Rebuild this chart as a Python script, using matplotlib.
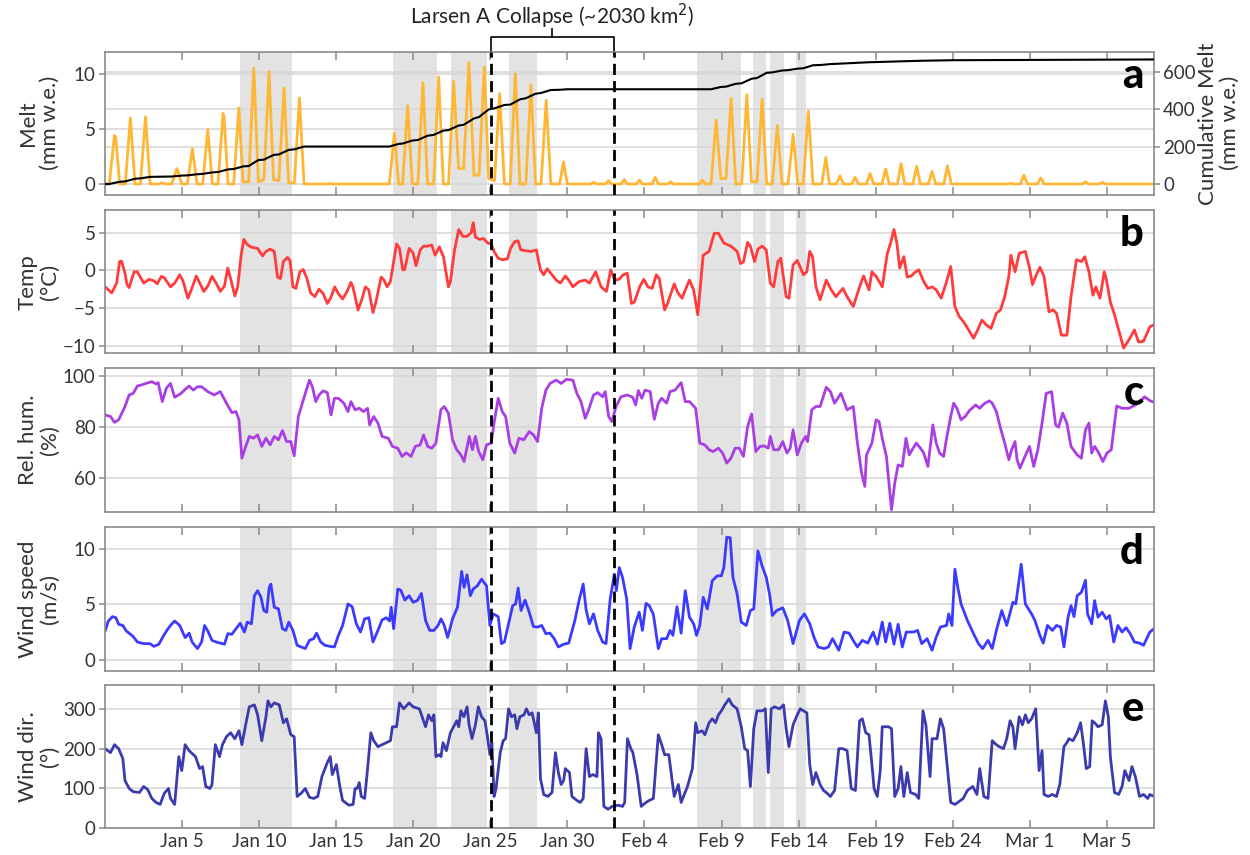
import numpy as np
import matplotlib
matplotlib.use("Agg")
import matplotlib.pyplot as plt
import matplotlib.transforms as mtransforms

plt.rcParams['font.family'] = ['Lato', 'DejaVu Sans']

# x axis: day number (Jan 5 = 5, Feb 4 = 35, Mar 5 = 65)
XLIM = (0.0, 68.04)
tick_days = [5, 10, 15, 20, 25, 30, 35, 40, 45, 50, 55, 60, 65]
tick_labels = ['Jan 5', 'Jan 10', 'Jan 15', 'Jan 20', 'Jan 25', 'Jan 30', 'Feb 4',
               'Feb 9', 'Feb 14', 'Feb 19', 'Feb 24', 'Mar 1', 'Mar 5']

# periods shaded grey
shade_start = [8.79, 18.69, 22.45, 26.19, 38.43, 42.06, 43.16, 44.80]
shade_end = [12.15, 21.54, 24.77, 28.02, 41.25, 42.89, 44.02, 45.50]

collapse_start = 25.05
collapse_end = 33.02

# melt (mm w.e.)
melt_day = [0.03, 0.30, 0.64, 0.72, 0.98, 1.34, 1.67, 1.97, 2.32, 2.65, 2.95, 3.50, 3.73, 3.95,
            4.35, 4.68, 4.75, 5.00, 5.36, 5.69, 5.99, 6.36, 6.69, 6.99, 7.35, 7.68, 7.75, 8.00,
            8.37, 8.70, 8.98, 9.34, 9.67, 9.97, 10.33, 10.66, 10.95, 11.30, 11.63, 11.93, 12.30,
            12.63, 12.93, 14.40, 14.60, 14.80, 18.46, 18.79, 19.06, 19.32, 19.65, 19.95, 20.31,
            20.64, 20.94, 21.33, 21.66, 21.96, 22.30, 22.63, 22.95, 23.28, 23.62, 23.95, 24.28,
            24.62, 24.90, 25.28, 25.61, 25.92, 26.30, 26.63, 26.93, 27.31, 27.64, 27.94, 28.30,
            28.63, 28.93, 29.50, 29.75, 30.00, 31.50, 31.70, 31.90, 32.47, 32.67, 32.87, 33.49,
            33.69, 33.89, 34.48, 34.68, 34.88, 35.50, 35.70, 35.90, 36.50, 36.70, 36.90, 38.56,
            38.76, 38.96, 39.32, 39.65, 39.95, 40.29, 40.62, 40.92, 41.31, 41.64, 41.94, 42.30,
            42.63, 42.93, 43.29, 43.62, 43.92, 44.31, 44.64, 44.94, 45.30, 45.63, 45.93, 46.50,
            46.76, 47.00, 47.45, 47.68, 47.90, 48.43, 48.66, 48.88, 49.40, 49.63, 49.86, 50.40,
            50.64, 50.88, 51.40, 51.64, 51.88, 52.41, 52.65, 52.89, 53.41, 53.65, 53.89, 54.41,
            54.65, 54.90, 58.56, 58.76, 58.96, 59.38, 59.60, 59.84, 60.48, 60.70, 60.92, 63.40,
            63.60, 63.80, 64.50, 64.70, 64.90, 68.04]
melt_mm = [0.0, 0.0, 4.4, 4.2, 0.0, 0.0, 6.0, 0.0, 0.0, 6.1, 0.0, 0.0, 0.1, 0.0,
           0.0, 1.4, 1.2, 0.0, 0.0, 3.2, 0.0, 0.0, 4.95, 0.0, 0.0, 6.4, 6.0, 0.0,
           0.0, 6.9, 0.2, 0.2, 10.5, 0.2, 0.4, 10.2, 0.4, 0.3, 8.7, 0.1, 0.1,
           7.8, 0.0, 0.0, 0.05, 0.0, 0.0, 4.6, 0.0, 0.0, 7.1, 0.0, 0.0,
           9.2, 0.0, 0.0, 9.7, 0.0, 0.0, 9.3, 1.4, 1.4, 11.0, 0.8, 0.8,
           10.6, 0.5, 0.3, 8.2, 0.0, 0.0, 10.0, 0.0, 0.0, 9.0, 0.0, 0.0,
           7.6, 0.0, 0.0, 2.0, 0.0, 0.0, 0.15, 0.0, 0.0, 0.3, 0.0, 0.0,
           0.4, 0.0, 0.0, 0.35, 0.0, 0.0, 0.6, 0.0, 0.0, 0.2, 0.0, 0.0,
           0.35, 0.0, 0.0, 5.8, 0.5, 0.5, 7.75, 0.0, 0.0, 8.1, 0.2, 0.2,
           7.7, 0.0, 0.0, 5.3, 0.0, 0.0, 4.5, 0.0, 0.0, 6.6, 0.0, 0.0,
           2.4, 0.0, 0.0, 0.75, 0.0, 0.0, 0.6, 0.0, 0.0, 0.95, 0.0, 0.0,
           1.35, 0.0, 0.0, 1.85, 0.0, 0.0, 1.6, 0.0, 0.0, 1.15, 0.0, 0.0,
           1.65, 0.0, 0.0, 0.05, 0.0, 0.0, 0.8, 0.0, 0.0, 0.55, 0.0, 0.0,
           0.2, 0.0, 0.0, 0.15, 0.0, 0.0]

# cumulative melt (mm w.e.)
cum_day = [0.03, 0.30, 0.98, 1.34, 1.97, 2.32, 2.95, 4.35, 5.00, 5.36, 5.99, 6.36, 6.99,
           7.35, 8.00, 8.37, 8.98, 9.34, 9.97, 10.33, 10.95, 11.30, 11.93, 12.30, 12.93,
           18.46, 19.06, 19.32, 19.95, 20.31, 20.94, 21.33, 21.96, 22.30, 22.95, 23.28, 23.95,
           24.28, 24.90, 25.28, 25.92, 26.30, 26.93, 27.31, 27.94, 28.30, 28.93, 29.50, 30.00,
           39.32, 39.95, 40.29, 40.92, 41.31, 41.94, 42.30, 42.93, 43.29, 43.92, 44.31, 44.94,
           45.30, 45.93, 46.50, 47.00, 49.50, 52.90, 55.00, 68.04]
cum_mm = [0, 0, 12, 14, 28, 30, 38, 40, 45, 46, 52, 54, 62,
          64, 78, 80, 94, 96, 128, 130, 155, 158, 182, 185, 200,
          200, 214, 216, 232, 235, 258, 262, 285, 288, 312, 316, 350,
          358, 398, 404, 422, 424, 452, 458, 482, 486, 502, 503, 506,
          506, 518, 520, 535, 538, 562, 566, 594, 596, 606, 608, 616,
          618, 634, 636, 640, 650, 658, 661, 665]

# air temperature (deg C)
temp_day = [0.03, 0.24, 0.46, 0.78, 0.97, 1.10, 1.32, 1.45, 1.59, 1.91, 2.12, 2.53, 2.88, 3.20,
            3.41, 3.68, 3.87, 4.27, 4.54, 4.87, 5.08, 5.40, 5.62, 5.94, 6.10, 6.43, 6.69, 6.96,
            7.23, 7.50, 7.77, 7.98, 8.17, 8.44, 8.63, 8.85, 9.03, 9.25, 9.52, 9.92, 10.24, 10.46,
            10.73, 11.00, 11.21, 11.40, 11.59, 11.86, 12.02, 12.21, 12.40, 12.66, 12.88, 13.10,
            13.36, 13.63, 13.90, 14.17, 14.44, 14.65, 14.92, 15.16, 15.43, 15.70, 15.97, 16.10,
            16.43, 16.64, 16.91, 17.13, 17.40, 17.58, 17.93, 18.12, 18.31, 18.53, 18.74, 18.93,
            19.12, 19.33, 19.46, 19.74, 20.00, 20.19, 20.46, 20.68, 20.95, 21.21, 21.43, 21.70,
            21.97, 22.29, 22.42, 22.69, 22.96, 23.23, 23.50, 23.77, 23.90, 24.04, 24.30, 24.57,
            24.85, 25.06, 25.25, 25.52, 25.78, 26.11, 26.32, 26.59, 26.80, 26.99, 27.26, 27.67,
            27.99, 28.26, 28.47, 28.69, 29.01, 29.28, 29.55, 29.87, 30.09, 30.36, 30.76, 31.16,
            31.43, 31.84, 32.19, 32.54, 32.81, 33.08, 33.35, 33.62, 33.89, 34.16, 34.35, 34.69,
            34.96, 35.23, 35.50, 35.77, 35.96, 36.31, 36.50, 36.93, 37.17, 37.44, 37.65, 37.92,
            38.19, 38.46, 38.81, 39.19, 39.53, 39.80, 40.15, 40.61, 41.01, 41.23, 41.42, 41.69,
            41.87, 42.14, 42.36, 42.63, 42.90, 43.16, 43.38, 43.65, 43.84, 44.19, 44.37, 44.64,
            44.91, 45.31, 45.53, 45.72, 45.90, 46.12, 46.39, 46.79, 47.06, 47.41, 47.87, 48.14,
            48.54, 48.95, 49.21, 49.56, 49.75, 50.02, 50.42, 50.75, 50.96, 51.18, 51.37, 51.55,
            51.82, 52.04, 52.31, 52.52, 52.79, 53.11, 53.38, 53.65, 53.92, 54.24, 54.59, 54.86,
            55.13, 55.40, 55.75, 56.07, 56.34, 56.61, 56.88, 57.15, 57.47, 57.82, 58.09, 58.36,
            58.63, 58.76, 59.03, 59.30, 59.70, 59.97, 60.16, 60.37, 60.64, 60.91, 61.23, 61.50,
            61.72, 62.04, 62.39, 62.66, 63.01, 63.33, 63.55, 63.82, 64.08, 64.27, 64.54, 64.81,
            64.94, 65.21, 65.48, 65.75, 66.07, 66.42, 66.77, 67.04, 67.36, 67.77, 68.04]
temp_c = [-2.2, -2.6, -3.0, -1.7, 1.15, 1.2, -0.4, -1.9, -2.3, -0.2, -0.2, -1.7, -1.2, -1.4,
          -1.8, -0.8, -1.0, -2.2, -1.7, -0.6, -1.4, -3.7, -2.6, -0.75, -1.4, -2.8, -2.1, -0.8,
          -1.7, -2.8, -2.1, 0.3, -1.1, -3.4, -2.2, 2.0, 4.1, 3.4, 3.05, 2.9, 1.9, 2.5,
          2.8, 2.5, -0.9, -1.1, 1.15, 1.7, 1.3, -2.2, -2.4, -0.2, 0.1, -1.0,
          -3.0, -3.5, -2.5, -3.1, -4.4, -3.7, -2.2, -3.1, -3.8, -2.9, -1.6, -2.2,
          -5.25, -4.1, -2.2, -2.6, -5.6, -4.3, -0.9, -1.3, -2.2, -1.5, 1.15, 3.5,
          2.9, 0.05, 0.1, 2.9, 2.3, 0.6, 2.7, 3.2, 3.2, 3.35, 2.0, 3.1,
          1.8, -2.2, -1.5, 2.7, 5.4, 4.5, 4.5, 5.0, 6.3, 4.4, 4.1, 4.2,
          3.6, 3.5, 2.5, 1.6, 1.4, 1.5, 2.9, 3.8, 3.9, 2.7, 2.6, 2.5,
          2.7, 0.05, -0.6, 0.2, -0.6, -1.3, -1.7, -0.75, -1.3, -2.2, -1.5, -1.3,
          -1.7, -0.2, -2.2, -2.8, 0.05, -1.3, -1.2, -0.6, -0.4, -4.4, -4.2, -2.2,
          -1.2, -2.2, -2.4, -0.6, -1.1, -5.25, -4.4, -1.8, -3.0, -3.7, -2.6, -1.3,
          -2.6, -5.9, 2.0, 2.5, 4.9, 4.9, 3.6, 3.2, 2.5, 0.9, 1.1, 3.7,
          3.2, 1.15, 2.8, 3.2, 2.7, -1.7, -2.2, 1.15, 1.6, -3.5, -3.7, 0.7,
          1.3, -0.6, -0.2, 2.5, 1.8, -2.2, -3.9, -1.3, -2.4, -3.5, -2.4, -3.5,
          -4.8, -2.2, -0.75, -2.6, -0.2, -0.8, -2.2, 2.25, 3.6, 5.4, 3.6, 0.3,
          1.8, -0.9, -0.75, -0.3, 0.05, -1.5, -2.4, -2.2, -2.6, -3.7, -1.5, 0.5,
          -4.8, -6.1, -7.0, -8.1, -9.0, -7.9, -6.6, -7.2, -7.7, -5.7, -5.25, -3.5,
          -0.8, 2.0, -0.2, 2.25, 2.5, 0.3, -1.9, -0.8, 0.4, -0.8, -5.5, -5.25,
          -5.7, -8.6, -8.6, -3.5, 1.4, 1.15, 1.8, -0.2, -3.3, -2.2, -3.7, -0.2,
          -1.1, -4.2, -5.9, -7.9, -10.3, -9.2, -7.9, -9.5, -9.4, -7.5, -7.2]

# relative humidity (%)
rh_day = [0.03, 0.38, 0.64, 0.91, 1.32, 1.59, 1.85, 2.12, 2.39, 2.66, 3.06, 3.33, 3.47, 3.74,
          4.00, 4.27, 4.54, 4.95, 5.22, 5.48, 5.75, 6.02, 6.29, 6.69, 7.10, 7.50, 7.90, 8.25,
          8.52, 8.71, 8.90, 9.11, 9.38, 9.65, 9.92, 10.19, 10.46, 10.73, 11.00, 11.27, 11.53,
          11.80, 12.07, 12.29, 12.56, 12.82, 13.01, 13.28, 13.47, 13.69, 13.90, 14.17, 14.44,
          14.68, 14.90, 15.16, 15.51, 15.78, 15.97, 16.24, 16.51, 16.78, 17.05, 17.18, 17.45,
          17.72, 17.99, 18.39, 18.66, 19.01, 19.28, 19.55, 19.87, 20.14, 20.46, 20.68, 20.95,
          21.21, 21.48, 21.80, 22.02, 22.29, 22.56, 22.83, 23.10, 23.31, 23.64, 23.85, 24.04,
          24.25, 24.52, 24.76, 25.06, 25.25, 25.52, 25.78, 26.00, 26.27, 26.59, 26.86, 27.18,
          27.53, 27.80, 28.07, 28.34, 28.61, 28.88, 29.28, 29.60, 29.95, 30.36, 30.62, 30.89,
          31.16, 31.38, 31.70, 31.97, 32.29, 32.46, 32.68, 32.89, 33.16, 33.48, 33.89, 34.24,
          34.43, 34.61, 34.83, 35.04, 35.37, 35.64, 35.90, 36.12, 36.44, 36.66, 36.98, 37.38,
          37.65, 37.92, 38.32, 38.59, 38.92, 39.19, 39.45, 39.80, 40.07, 40.34, 40.61, 40.88,
          41.15, 41.42, 41.69, 41.95, 42.22, 42.49, 42.76, 43.03, 43.16, 43.38, 43.70, 43.97,
          44.24, 44.45, 44.64, 44.91, 45.18, 45.45, 45.58, 45.85, 46.12, 46.39, 46.79, 47.06,
          47.33, 47.74, 48.14, 48.54, 48.81, 49.08, 49.29, 49.40, 49.75, 50.02, 50.21, 50.42,
          50.69, 51.02, 51.23, 51.45, 51.72, 51.96, 52.17, 52.36, 52.63, 52.90, 53.11, 53.38,
          53.70, 53.92, 54.14, 54.40, 54.59, 54.86, 55.05, 55.26, 55.53, 55.80, 56.07, 56.47,
          56.74, 57.01, 57.36, 57.55, 57.82, 58.09, 58.36, 58.63, 58.81, 59.03, 59.16, 59.35,
          59.62, 59.97, 60.24, 60.51, 60.78, 61.05, 61.40, 61.66, 61.85, 62.12, 62.39, 62.66,
          63.06, 63.33, 63.60, 63.82, 64.00, 64.19, 64.41, 64.73, 64.99, 65.27, 65.62, 65.97,
          66.42, 66.83, 67.15, 67.42, 67.77, 68.04]
rh_pct = [84.8, 84.2, 81.9, 82.9, 88.1, 92.6, 93.2, 96.1, 96.5, 97.1, 97.8, 96.9, 97.4, 90.0,
          95.2, 97.1, 91.7, 93.2, 94.8, 96.1, 94.5, 95.8, 95.8, 93.9, 92.6, 93.9, 89.4, 85.7,
          86.1, 82.9, 67.9, 71.8, 76.4, 75.7, 77.0, 72.5, 75.7, 73.1, 76.4, 75.1, 78.7,
          74.4, 74.4, 68.8, 84.2, 89.4, 93.2, 98.4, 95.8, 90.0, 92.6, 94.2, 93.5,
          84.8, 91.3, 91.3, 89.4, 86.1, 90.0, 86.8, 87.4, 86.1, 87.4, 80.9, 84.2,
          81.6, 76.4, 75.7, 72.5, 71.8, 68.6, 70.0, 68.6, 72.5, 73.1, 77.0, 72.5,
          71.8, 73.8, 86.8, 88.1, 85.5, 75.1, 71.2, 69.2, 66.6, 76.4, 71.2, 76.4,
          70.5, 67.3, 73.1, 73.8, 81.6, 91.3, 86.1, 84.2, 73.8, 69.9, 75.7, 75.1,
          78.3, 77.0, 74.4, 87.4, 94.5, 97.1, 98.4, 97.1, 98.7, 98.4, 93.2, 90.0,
          83.5, 86.8, 92.6, 93.5, 91.9, 93.9, 84.2, 82.2, 88.1, 91.9, 92.6, 91.7,
          88.7, 94.3, 91.3, 94.5, 93.9, 83.1, 89.4, 91.3, 89.4, 93.9, 94.5, 97.4,
          90.0, 90.0, 87.4, 73.8, 73.1, 71.2, 70.5, 71.8, 69.9, 66.0, 67.9, 71.8,
          71.8, 68.6, 80.3, 85.2, 70.5, 72.5, 72.7, 71.8, 76.4, 71.2, 71.2, 74.4,
          69.9, 71.8, 79.0, 69.2, 73.8, 76.4, 74.4, 86.8, 88.1, 88.1, 95.6, 93.9,
          89.4, 93.2, 86.8, 88.1, 73.8, 62.1, 56.9, 69.2, 73.8, 82.9, 82.2, 75.7,
          68.6, 47.8, 58.2, 65.3, 64.7, 75.7, 69.2, 71.2, 73.8, 71.8, 69.9, 64.7,
          80.9, 73.8, 69.9, 68.6, 75.7, 84.2, 89.4, 87.4, 82.9, 84.2, 86.5, 88.7,
          87.4, 89.1, 90.3, 89.4, 86.1, 79.6, 73.8, 67.3, 71.2, 74.4, 67.3, 64.0,
          67.9, 72.5, 64.7, 71.2, 81.6, 93.2, 93.9, 80.9, 80.0, 85.5, 81.6, 72.5,
          69.2, 67.9, 79.0, 81.6, 69.9, 72.5, 70.5, 66.6, 69.9, 71.2, 88.3, 87.4,
          87.4, 88.7, 90.0, 91.9, 90.4, 89.7]

# wind speed (m/s)
ws_day = [0.03, 0.24, 0.51, 0.73, 0.91, 1.18, 1.40, 1.59, 1.85, 2.12, 2.53, 2.93, 3.20, 3.52,
          3.79, 4.06, 4.27, 4.54, 4.87, 5.22, 5.48, 5.67, 6.02, 6.29, 6.48, 6.69, 6.96, 7.23,
          7.50, 7.77, 7.99, 8.25, 8.52, 8.79, 9.06, 9.25, 9.52, 9.71, 9.92, 10.14, 10.32, 10.51,
          10.67, 10.78, 11.00, 11.27, 11.53, 11.75, 11.94, 12.21, 12.48, 12.74, 13.01, 13.28,
          13.55, 13.74, 14.01, 14.28, 14.63, 14.90, 15.16, 15.43, 15.78, 16.05, 16.32, 16.59,
          16.86, 17.13, 17.40, 17.72, 17.99, 18.26, 18.47, 18.58, 18.74, 19.01, 19.20, 19.47,
          19.74, 20.00, 20.27, 20.54, 20.81, 21.08, 21.35, 21.62, 21.81, 22.02, 22.24, 22.56,
          22.88, 23.15, 23.31, 23.50, 23.71, 23.90, 24.17, 24.44, 24.76, 24.98, 25.19, 25.52,
          25.73, 25.92, 26.19, 26.46, 26.65, 26.81, 27.00, 27.26, 27.53, 27.80, 28.07, 28.34,
          28.61, 28.88, 29.15, 29.42, 29.77, 30.09, 30.49, 30.76, 31.03, 31.22, 31.43, 31.70,
          31.97, 32.29, 32.51, 32.78, 33.05, 33.18, 33.37, 33.58, 33.85, 34.07, 34.34, 34.66,
          34.87, 35.10, 35.31, 35.58, 35.90, 36.12, 36.44, 36.66, 36.85, 37.11, 37.38, 37.65,
          37.92, 38.19, 38.38, 38.59, 38.81, 39.08, 39.40, 39.72, 39.99, 40.15, 40.34, 40.56,
          40.74, 41.01, 41.28, 41.60, 41.87, 42.09, 42.36, 42.63, 42.90, 43.11, 43.30, 43.57,
          43.97, 44.29, 44.64, 45.05, 45.37, 45.72, 45.99, 46.26, 46.66, 46.93, 47.20, 47.60,
          47.95, 48.27, 48.60, 48.81, 49.13, 49.48, 49.83, 50.10, 50.42, 50.64, 50.91, 51.18,
          51.45, 51.72, 51.98, 52.44, 52.71, 52.98, 53.33, 53.65, 53.92, 54.19, 54.59, 54.73,
          54.94, 55.13, 55.32, 55.53, 55.94, 56.34, 56.66, 56.93, 57.28, 57.55, 57.82, 58.17,
          58.49, 58.89, 59.08, 59.43, 59.70, 60.10, 60.32, 60.64, 60.86, 61.13, 61.45, 61.72,
          61.99, 62.20, 62.47, 62.66, 62.85, 63.06, 63.33, 63.60, 63.73, 64.00, 64.19, 64.41,
          64.68, 64.94, 65.16, 65.43, 65.70, 65.97, 66.23, 66.50, 66.77, 67.10, 67.36, 67.77,
          68.04]
ws_ms = [2.6, 3.5, 3.9, 3.8, 3.2, 3.1, 2.6, 2.4, 2.1, 1.6, 1.45, 1.45, 1.2, 1.4,
         2.1, 2.7, 3.1, 3.5, 3.1, 2.0, 2.4, 1.6, 1.0, 1.6, 3.1, 2.6, 1.75, 1.6,
         1.5, 1.4, 2.35, 2.3, 2.8, 3.3, 2.5, 3.4, 3.25, 5.8, 6.25, 5.65, 4.45, 4.3,
         6.55, 6.85, 4.75, 4.6, 2.8, 2.65, 3.4, 2.65, 1.3, 1.15, 1.0, 1.75,
         1.9, 2.4, 1.6, 1.3, 1.2, 1.15, 2.2, 3.1, 5.05, 4.8, 3.25, 2.5,
         3.7, 3.8, 1.6, 2.65, 3.6, 3.8, 3.5, 4.75, 2.8, 6.4, 6.3, 5.4,
         5.8, 5.2, 5.35, 6.0, 3.55, 2.65, 2.65, 3.1, 3.7, 3.1, 2.0, 3.7,
         4.75, 8.0, 6.55, 7.7, 5.8, 6.4, 6.7, 7.3, 6.7, 3.1, 4.15, 3.9,
         1.45, 1.6, 3.25, 4.9, 5.05, 6.5, 4.45, 5.4, 4.3, 3.0, 2.95, 3.1,
         2.35, 2.4, 1.9, 1.15, 1.4, 1.5, 3.55, 5.35, 6.85, 4.5, 3.25, 4.15,
         2.65, 1.6, 1.45, 5.5, 7.75, 6.25, 8.35, 7.45, 5.5, 1.0, 2.95, 4.3,
         2.65, 5.1, 4.9, 4.1, 1.0, 1.9, 1.9, 2.65, 2.2, 4.8, 2.4, 6.25,
         3.85, 3.25, 2.2, 3.1, 5.65, 4.6, 7.15, 7.6, 7.6, 8.35, 11.1, 11.05,
         7.45, 5.95, 3.4, 3.1, 4.45, 4.6, 9.85, 8.5, 7.45, 5.95, 4.0, 4.45,
         4.7, 3.55, 1.45, 3.55, 4.15, 3.25, 2.05, 1.15, 1.0, 1.15, 1.9, 0.85,
         2.5, 2.4, 1.6, 1.15, 1.75, 1.5, 2.5, 1.4, 3.4, 1.6, 3.3, 1.4,
         3.2, 1.15, 2.5, 2.5, 2.65, 1.45, 1.9, 0.85, 2.05, 2.95, 3.1, 4.15,
         3.1, 8.2, 6.55, 5.05, 3.55, 2.35, 1.45, 1.0, 1.75, 1.0, 2.65, 4.45,
         3.1, 5.2, 5.05, 8.65, 5.05, 4.15, 3.55, 2.2, 1.5, 3.1, 2.65, 3.1,
         2.95, 1.15, 3.85, 4.9, 3.9, 5.8, 6.1, 7.2, 4.15, 3.25, 5.35, 3.85,
         4.3, 3.7, 4.0, 1.6, 3.1, 2.5, 2.9, 2.35, 1.6, 1.5, 1.3, 2.5,
         2.8]

# wind direction (deg)
wd_day = [0.03, 0.38, 0.64, 0.91, 1.18, 1.32, 1.59, 1.85, 2.26, 2.53,
          2.80, 3.06, 3.33, 3.60, 3.87, 4.14, 4.27, 4.54, 4.81, 5.00,
          5.22, 5.48, 5.89, 6.16, 6.35, 6.56, 6.83, 6.96, 7.18, 7.45,
          7.64, 7.90, 8.17, 8.44, 8.71, 8.90, 9.17, 9.38, 9.71, 9.92,
          10.19, 10.46, 10.59, 10.78, 11.00, 11.32, 11.59, 11.80, 12.07, 12.29,
          12.48, 12.74, 13.01, 13.28, 13.55, 13.82, 14.09, 14.44, 14.63, 14.76,
          15.03, 15.25, 15.43, 15.84, 16.11, 16.24, 16.37, 16.51, 16.64, 16.86,
          17.05, 17.26, 17.45, 17.72, 18.26, 18.53, 18.66, 18.93, 19.12, 19.39,
          19.74, 20.00, 20.41, 20.68, 20.81, 21.00, 21.21, 21.35, 21.48, 21.70,
          21.81, 21.94, 22.16, 22.42, 22.69, 22.83, 22.96, 23.10, 23.29, 23.50,
          23.63, 23.82, 24.04, 24.23, 24.44, 24.66, 24.84, 24.98, 25.11, 25.25,
          25.38, 25.65, 25.84, 26.00, 26.19, 26.38, 26.59, 26.73, 26.92, 27.19,
          27.35, 27.53, 27.72, 27.88, 27.99, 28.12, 28.26, 28.47, 28.74, 29.01,
          29.23, 29.42, 29.60, 29.76, 29.87, 30.14, 30.30, 30.62, 30.84, 31.03,
          31.22, 31.43, 31.65, 31.92, 32.02, 32.19, 32.37, 32.64, 32.91, 33.31,
          33.58, 33.72, 33.90, 34.12, 34.25, 34.52, 34.79, 35.10, 35.31, 35.58,
          35.90, 36.12, 36.31, 36.58, 36.93, 37.20, 37.38, 37.79, 38.11, 38.32,
          38.46, 38.73, 38.92, 39.19, 39.40, 39.61, 39.80, 39.99, 40.21, 40.48,
          40.69, 41.01, 41.28, 41.50, 41.69, 41.87, 42.09, 42.30, 42.63, 42.84,
          43.03, 43.22, 43.43, 43.76, 44.02, 44.19, 44.37, 44.64, 44.91, 45.10,
          45.31, 45.53, 45.72, 45.91, 46.12, 46.39, 46.61, 46.79, 47.06, 47.33,
          47.60, 47.87, 48.14, 48.41, 48.68, 48.95, 49.13, 49.35, 49.56, 49.75,
          49.89, 50.10, 50.29, 50.42, 50.64, 50.83, 51.02, 51.23, 51.45, 51.63,
          51.82, 52.04, 52.25, 52.58, 52.79, 53.06, 53.25, 53.52, 53.65, 53.97,
          54.19, 54.40, 54.67, 54.86, 55.13, 55.32, 55.67, 55.94, 56.29, 56.56,
          56.74, 57.01, 57.28, 57.55, 57.82, 58.01, 58.28, 58.49, 58.71, 58.89,
          59.03, 59.30, 59.51, 59.70, 59.89, 60.10, 60.37, 60.59, 60.78, 60.91,
          61.18, 61.45, 61.72, 61.93, 62.20, 62.39, 62.52, 62.79, 63.06, 63.28,
          63.47, 63.65, 63.87, 64.03, 64.19, 64.41, 64.68, 64.89, 65.08, 65.21,
          65.48, 65.75, 65.97, 66.15, 66.42, 66.61, 66.83, 67.10, 67.36, 67.63,
          67.77, 68.04]
wd_deg = [200, 190, 210, 200, 175, 120, 100, 92, 90, 105,
          97, 75, 65, 60, 88, 100, 75, 60, 180, 145,
          210, 195, 180, 150, 155, 105, 100, 110, 210, 180,
          210, 230, 240, 225, 245, 210, 265, 305, 310, 285,
          220, 280, 320, 305, 315, 310, 265, 275, 235, 230,
          80, 88, 100, 78, 75, 80, 130, 165, 180, 135,
          160, 105, 70, 58, 60, 100, 100, 115, 80, 75,
          150, 240, 220, 205, 215, 220, 255, 255, 315, 300,
          315, 305, 300, 270, 255, 285, 270, 285, 180, 185,
          180, 215, 195, 240, 260, 270, 255, 295, 280, 305,
          260, 225, 260, 305, 280, 270, 225, 185, 215, 80,
          100, 190, 220, 225, 300, 280, 285, 250, 280, 285,
          300, 285, 290, 260, 240, 290, 125, 85, 80, 90,
          190, 140, 110, 120, 150, 140, 80, 70, 65, 75,
          200, 130, 135, 130, 240, 225, 55, 48, 55, 58,
          55, 65, 225, 200, 190, 135, 55, 65, 70, 75,
          235, 210, 185, 185, 80, 110, 65, 105, 150, 265,
          240, 245, 235, 265, 275, 265, 285, 295, 310, 325,
          310, 300, 255, 200, 195, 105, 250, 295, 295, 300,
          140, 300, 305, 300, 310, 250, 205, 260, 285, 300,
          295, 290, 160, 110, 140, 110, 95, 90, 80, 95,
          200, 200, 195, 100, 95, 270, 275, 240, 235, 160,
          100, 80, 145, 255, 255, 255, 250, 80, 100, 155,
          80, 140, 90, 85, 75, 295, 260, 130, 225, 225,
          275, 250, 140, 65, 60, 65, 75, 95, 105, 85,
          150, 80, 75, 220, 210, 205, 200, 225, 270, 255,
          200, 280, 260, 285, 265, 275, 300, 145, 195, 85,
          80, 85, 80, 110, 205, 215, 225, 220, 240, 265,
          210, 150, 155, 270, 265, 255, 260, 320, 280, 180,
          90, 85, 105, 145, 120, 155, 130, 80, 85, 75,
          85, 80]

LINE_COLORS = {'melt': '#ffb733', 'temp': '#ff3b3b', 'rh': '#a93ee3',
               'ws': '#3b3bff', 'wd': '#3b3bad'}
SHADE = '#e3e3e3'
GRID = '#d6d6d6'
SPINE = '#8a8a8a'
TEXT = '#333333'
TICK_FS = 13.5
LABEL_FS = 16


def _style_axes(ax, ylim, yticks, ylabel):
    ax.set_xlim(*XLIM)
    ax.set_ylim(*ylim)
    ax.set_yticks(yticks)
    for s in ax.spines.values():
        s.set_color(SPINE)
        s.set_linewidth(1.2)
    ax.set_xticks(tick_days)
    ax.tick_params(axis='x', direction='in', top=True, bottom=True, length=6,
                   color=SPINE, width=1.1, labelsize=TICK_FS, labelcolor=TEXT)
    ax.tick_params(axis='y', direction='out', length=4, color=SPINE, width=1.1,
                   labelsize=TICK_FS, labelcolor=TEXT, pad=2.5)
    for y in yticks:
        ax.axhline(y, color=GRID, lw=1.1, zorder=0.5)
    for a, b in zip(shade_start, shade_end):
        ax.axvspan(a, b, color=SHADE, lw=0, zorder=0)
    for x in (collapse_start, collapse_end):
        ax.axvline(x, color='black', lw=2.0, ls=(0, (4, 2.2)), zorder=4)
    ax.set_ylabel(ylabel, fontsize=LABEL_FS, color=TEXT, linespacing=1.1)
    ax.yaxis.set_label_coords(-0.043, 0.5)


def _panel_letter(ax, letter):
    ax.text(0.99, 0.83, letter, transform=ax.transAxes, ha='right', va='center',
            fontsize=30, fontweight='black', color='black', zorder=6)


fig = plt.figure(figsize=(12.5, 8.55), dpi=100)
left, width, height = 0.0837, 0.8395, 0.1677
bottoms = [0.7719, 0.5868, 0.4015, 0.2156, 0.0312]
axes = [fig.add_axes([left, b, width, height]) for b in bottoms]
ax_a, ax_b, ax_c, ax_d, ax_e = axes

### a: melt + cumulative melt
CUM_SCALE = 58.9
_style_axes(ax_a, (-1, 12), [0, 5, 10], 'Melt\n(mm w.e.)')
for y in (200, 400, 600):
    ax_a.axhline(y / CUM_SCALE, color=GRID, lw=1.1, zorder=0.5)
ax_a.plot(melt_day, melt_mm, color=LINE_COLORS['melt'], lw=2.0, zorder=2)
ax_cum = ax_a.twinx()
ax_cum.set_ylim(-1 * CUM_SCALE, 12 * CUM_SCALE)
ax_cum.set_yticks([0, 200, 400, 600])
ax_cum.plot(cum_day, cum_mm, color='black', lw=1.5, zorder=3)
ax_cum.tick_params(axis='y', direction='out', length=4, color=SPINE, width=1.1,
                   labelsize=TICK_FS, labelcolor=TEXT, pad=2.5)
for s in ax_cum.spines.values():
    s.set_visible(False)
ax_cum.set_ylabel('Cumulative Melt\n(mm w.e.)', fontsize=LABEL_FS, color=TEXT,
                  linespacing=1.1, rotation=90)
ax_cum.yaxis.set_label_coords(1.042, 0.5)
_panel_letter(ax_a, 'a')

# collapse bracket above panel a
trans = mtransforms.blended_transform_factory(ax_a.transData, ax_a.transAxes)
mid = 0.5 * (collapse_start + collapse_end)
ax_a.plot([collapse_start, collapse_start, collapse_end, collapse_end],
          [1.0, 1.105, 1.105, 1.0], transform=trans, color='black', lw=1.2,
          clip_on=False)
ax_a.plot([mid, mid], [1.105, 1.155], transform=trans, color='black', lw=1.2,
          clip_on=False)
ax_a.text(mid, 1.245, 'Larsen A Collapse (~2030 km$^2$)', transform=trans,
          ha='center', va='center', fontsize=15, color='#222222')

### b: temperature
_style_axes(ax_b, (-11, 8), [-10, -5, 0, 5], 'Temp\n(°C)')
ax_b.plot(temp_day, temp_c, color=LINE_COLORS['temp'], lw=2.0, zorder=2)
_panel_letter(ax_b, 'b')

### c: relative humidity
_style_axes(ax_c, (47, 103), [60, 80, 100], 'Rel. hum.\n(%)')
ax_c.plot(rh_day, rh_pct, color=LINE_COLORS['rh'], lw=2.0, zorder=2)
_panel_letter(ax_c, 'c')

### d: wind speed
_style_axes(ax_d, (-1, 12), [0, 5, 10], 'Wind speed\n(m/s)')
ax_d.plot(ws_day, ws_ms, color=LINE_COLORS['ws'], lw=2.0, zorder=2)
_panel_letter(ax_d, 'd')

### e: wind direction
_style_axes(ax_e, (0, 360), [0, 100, 200, 300], 'Wind dir.\n(°)')
ax_e.plot(wd_day, wd_deg, color=LINE_COLORS['wd'], lw=2.0, zorder=2)
_panel_letter(ax_e, 'e')

for ax in axes[:-1]:
    ax.tick_params(axis='x', labelbottom=False)
ax_e.set_xticklabels(tick_labels)

fig.savefig('out.png', dpi=100)
